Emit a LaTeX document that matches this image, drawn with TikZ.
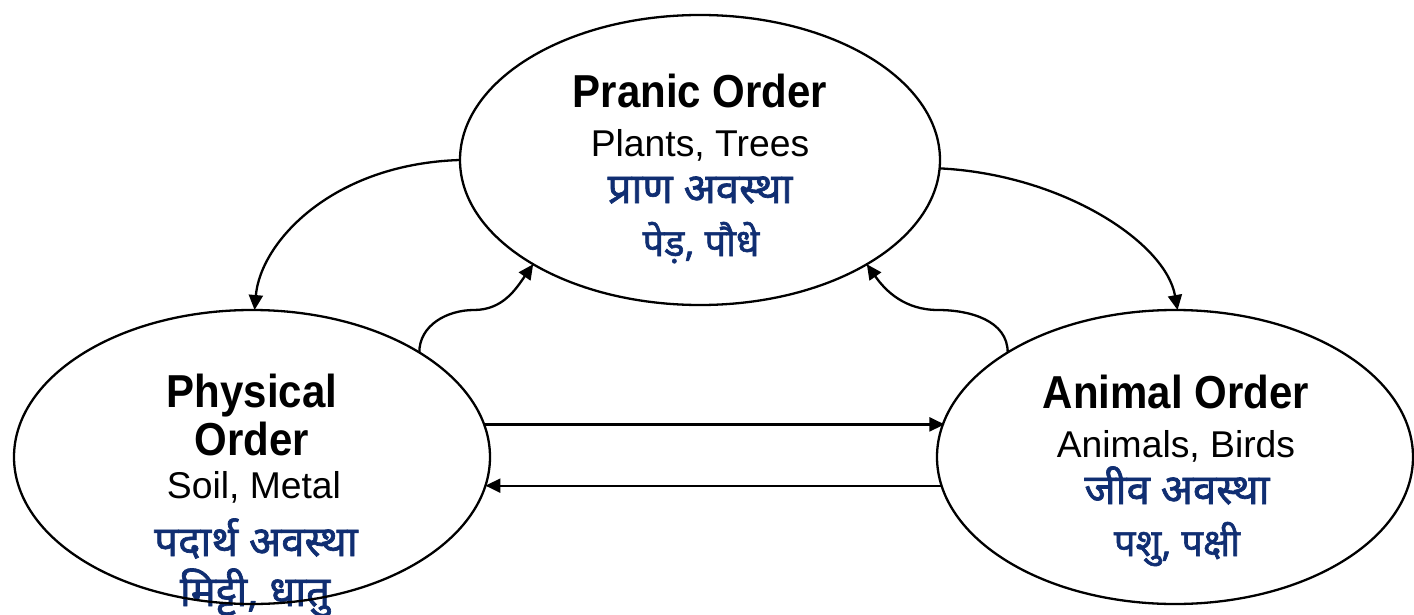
\documentclass[tikz,border=0pt]{standalone}
\usepackage{fontspec}
\setmainfont{Liberation Sans}
\newfontfamily\hindi[Script=Devanagari,FakeBold=1.6]{Noto Sans}
\usetikzlibrary{shapes.geometric,arrows.meta}
\definecolor{hblue}{RGB}{16,46,114}
\begin{document}
\begin{tikzpicture}[x=1pt,y=1pt,
  title/.style={font=\fontsize{42}{42}\selectfont\bfseries, anchor=base, inner sep=0pt, yscale=1.1, transform shape},
  sub/.style={font=\fontsize{37.3}{37.3}\selectfont, anchor=base, inner sep=0pt},
  hin/.style={font=\hindi\fontsize{42}{42}\selectfont, text=hblue, anchor=base, inner sep=0pt},
  hinsmall/.style={font=\hindi\fontsize{38}{38}\selectfont, text=hblue, anchor=base, inner sep=0pt},
  order/.style={draw, line width=2.3pt, ellipse, inner sep=0pt, outer sep=0pt},
  conn/.style={line width=2.3pt, -{Triangle[length=15pt,width=14pt]}}]
\useasboundingbox (0,0) rectangle (1414,-615);
% texts
\node[title] (t1) at (700,-108) {Pranic Order};
\node[sub]   (t2) at (700,-157) {Plants, Trees};
\node[hin]   (t3) at (700,-203) {प्राण अवस्था};
\node[hinsmall] (t4) at (701,-256) {पेड़, पौधे};
\node[title] (l1) at (252,-407) {Physical};
\node[title] (l2) at (252,-455) {Order};
\node[sub]   (l3) at (254,-498) {Soil, Metal};
\node[hin]   (l4) at (256,-556) {पदार्थ अवस्था};
\node[hin]   (l5) at (255,-606) {मिट्टी, धातु};
\node[title] (r1) at (1176,-408) {Animal Order};
\node[sub]   (r2) at (1176,-457) {Animals, Birds};
\node[hin]   (r3) at (1177,-504) {जीव अवस्था};
\node[hinsmall] (r4) at (1177,-556) {पशु, पक्षी};
% ellipses
\node[order, minimum width=480pt, minimum height=290pt] (top) at (700,-160) {};
\node[order, minimum width=476pt, minimum height=294pt] (left) at (252,-457) {};
\node[order, minimum width=476pt, minimum height=294pt] (right) at (1175,-457) {};
% helper coordinates
\coordinate (sl) at (474,-310);
\coordinate (sr) at (938,-310);
% connectors
\draw[conn] (top.west) .. controls +(-128,-4) and +(6,68) .. (left.89);
\draw[conn] (top.-2) .. controls +(122,-6) and +(-12,68) .. (right.89.5);
\draw[conn] (left.8.35) -- (right.171.65 |- left.8.35);
\draw[conn] (right.187.34) -- (left.-7.34 |- right.187.34);
\draw[conn] (left.32) to[out=90,in=180] (sl) to[out=0,in=235] (top.212);
\draw[conn] (right.148) to[out=90,in=0] (sr) to[out=180,in=-55] (top.-32);
\end{tikzpicture}
\end{document}
